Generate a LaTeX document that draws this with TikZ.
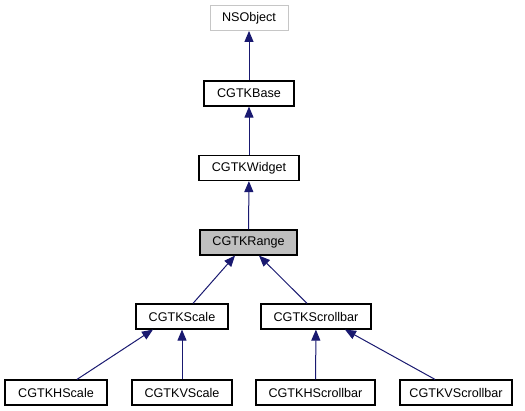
\documentclass[tikz,border=0pt]{standalone}
\usepackage{fontspec}
\setmainfont{Liberation Sans}
\usetikzlibrary{arrows.meta,positioning}

\begin{document}
\begin{tikzpicture}[
  x=1pt,y=-1pt,
  cls/.style={draw,line width=1.2pt,minimum height=25pt,inner sep=0pt,font=\fontsize{12.6}{14}\selectfont},
  ext/.style={cls,draw=gray!45,line width=0.9pt},
  cur/.style={cls,fill=gray!50},
  arr/.style={draw={rgb,255:red,25;green,25;blue,112},line width=1pt,{Triangle[length=11pt,width=9pt]}-}
]
\useasboundingbox (0,0) rectangle (525,411);
\node[ext,minimum width=78pt] (nsobj) at (249,18) {NSObject};
\node[cls,minimum width=90pt] (base) at (249,93.5) {CGTKBase};
\node[cls,minimum width=100pt] (widget) at (249,168) {CGTKWidget};
\node[cur,minimum width=97pt] (range) at (248.5,242.5) {CGTKRange};
\node[cls,minimum width=92pt] (scale) at (182,316.5) {CGTKScale};
\node[cls,minimum width=110pt] (scroll) at (316,316.5) {CGTKScrollbar};
\node[cls,minimum width=102pt] (hscale) at (56,392.5) {CGTKHScale};
\node[cls,minimum width=100pt] (vscale) at (182,392.5) {CGTKVScale};
\node[cls,minimum width=119pt] (hscroll) at (315.5,392.5) {CGTKHScrollbar};
\node[cls,minimum width=112pt] (vscroll) at (456,392.5) {CGTKVScrollbar};
\draw[arr] (nsobj) -- (base);
\draw[arr] (base) -- (widget);
\draw[arr] (widget) -- (range);
\draw[arr] ([xshift=-13.5pt]range.south) -- ([xshift=11pt]scale.north);
\draw[arr] ([xshift=10.5pt]range.south) -- ([xshift=-9pt]scroll.north);
\draw[arr] ([xshift=-29pt]scale.south) -- ([xshift=21pt]hscale.north);
\draw[arr] (scale) -- (vscale);
\draw[arr] (scroll) -- (hscroll);
\draw[arr] ([xshift=29pt]scroll.south) -- ([xshift=-21pt]vscroll.north);
\end{tikzpicture}
\end{document}
